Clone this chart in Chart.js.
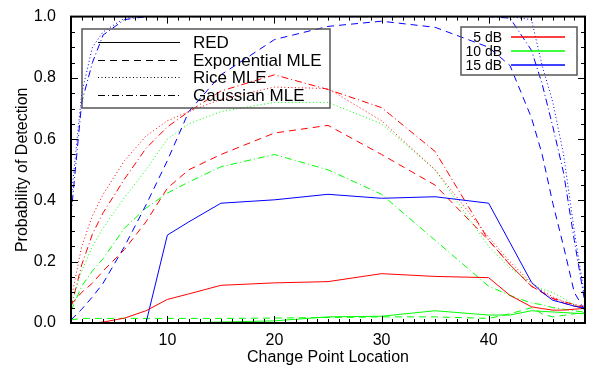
<!DOCTYPE html>
<html>
<head>
<meta charset="utf-8">
<script src="https://cdn.jsdelivr.net/npm/chart.js@4.4.1/dist/chart.umd.min.js"></script>
<style>
  html, body { margin: 0; padding: 0; background: #fff; }
</style>
</head>
<body>
<canvas id="chart" width="590" height="369"></canvas>
<script>
// change point locations where the detectors were evaluated
const changePoints = [1, 2, 3, 4, 6, 8, 10, 12, 15, 20, 25, 30, 35, 40, 42, 44, 45, 46, 47, 48, 49];

// RED detector (solid)
const red5  = [0, 0, 0, 0.003, 0.016, 0.04, 0.077, 0.095, 0.123, 0.131, 0.135, 0.161, 0.152, 0.148, 0.09, 0.053, 0.047, 0.042, 0.042, 0.045, 0.048];
const red10 = [0, 0, 0, 0, 0, 0, 0, 0.001, 0.003, 0.007, 0.02, 0.022, 0.04, 0.026, 0.026, 0.04, 0.038, 0.036, 0.034, 0.032, 0.03];
const red15 = [0, 0, 0, 0, 0, 0, 0.287, 0.33, 0.391, 0.402, 0.42, 0.407, 0.412, 0.391, 0.262, 0.133, 0.1, 0.074, 0.065, 0.055, 0.048];

// Exponential MLE (dashed)
const exp5  = [0.06, 0.1, 0.13, 0.17, 0.24, 0.33, 0.44, 0.5, 0.55, 0.62, 0.645, 0.55, 0.45, 0.27, 0.19, 0.12, 0.1, 0.08, 0.065, 0.055, 0.05];
const exp10 = [0.01, 0.015, 0.015, 0.015, 0.015, 0.015, 0.015, 0.015, 0.015, 0.016, 0.018, 0.02, 0.02, 0.015, 0.03, 0.05, 0.03, 0.02, 0.025, 0.03, 0.035];
const exp15 = [0.01, 0.045, 0.085, 0.13, 0.25, 0.385, 0.53, 0.69, 0.81, 0.925, 0.968, 0.985, 0.965, 0.9, 0.84, 0.67, 0.55, 0.39, 0.25, 0.1, 0.04];

// Rice MLE (dotted)
const rice5  = [0.075, 0.25, 0.35, 0.42, 0.53, 0.61, 0.66, 0.69, 0.73, 0.77, 0.765, 0.66, 0.5, 0.28, 0.2, 0.13, 0.105, 0.085, 0.07, 0.06, 0.055];
const rice10 = [0.06, 0.17, 0.25, 0.31, 0.41, 0.5, 0.6, 0.65, 0.69, 0.72, 0.72, 0.65, 0.5, 0.25, 0.18, 0.13, 0.11, 0.1, 0.08, 0.06, 0.045];
const rice15 = [0.4, 0.75, 0.9, 0.95, 0.995, 1, 1, 1, 1, 1, 1, 1, 1, 1, 1, 0.99, 0.84, 0.72, 0.55, 0.3, 0.08];

// Gaussian MLE (dash-dot)
const gauss5  = [0.05, 0.19, 0.29, 0.36, 0.47, 0.57, 0.64, 0.69, 0.757, 0.81, 0.762, 0.703, 0.56, 0.27, 0.19, 0.12, 0.1, 0.08, 0.07, 0.06, 0.05];
const gauss10 = [0.04, 0.12, 0.17, 0.21, 0.31, 0.375, 0.424, 0.46, 0.51, 0.55, 0.5, 0.42, 0.27, 0.12, 0.09, 0.065, 0.06, 0.05, 0.045, 0.04, 0.035];
const gauss15 = [0.35, 0.72, 0.85, 0.94, 0.99, 1, 1, 1, 1, 1, 1, 1, 1, 1, 0.995, 0.89, 0.78, 0.64, 0.49, 0.27, 0.065];

const xTicks = [10, 20, 30, 40];
const yTicks = [0, 0.2, 0.4, 0.6, 0.8, 1.0];

const methodNames = ['RED', 'Exponential MLE', 'Rice MLE', 'Gaussian MLE'];
const snrNames = ['5 dB', '10 dB', '15 dB'];

const snrColors = ['#ff0000', '#00ff00', '#0000ff'];
const methodDashes = [[], [7, 5], [1, 2.5], [7, 3, 1, 3]];

const seriesTable = [
  [red5, red10, red15],
  [exp5, exp10, exp15],
  [rice5, rice10, rice15],
  [gauss5, gauss10, gauss15]
];

const datasets = [];
seriesTable.forEach((group, m) => {
  group.forEach((vals, s) => {
    datasets.push({
      label: methodNames[m] + ' ' + snrNames[s],
      data: changePoints.map((x, i) => ({ x: x, y: vals[i] })),
      borderColor: snrColors[s],
      borderDash: methodDashes[m],
      borderWidth: 1,
      pointRadius: 0,
      fill: false,
      tension: 0
    });
  });
});

const FONT = 'Liberation Sans, Arial, Helvetica, sans-serif';

// IDL-style frame with inward ticks on all four sides, plus the two boxed legends
const framePlugin = {
  id: 'frame',
  afterDatasetsDraw(chart) {
    const { ctx, chartArea: a, scales } = chart;
    const xs = scales.x, ys = scales.y;
    ctx.save();
    ctx.strokeStyle = '#000';
    ctx.lineWidth = 2;
    ctx.strokeRect(a.left, a.top, a.right - a.left, a.bottom - a.top);
    ctx.lineWidth = 1;
    ctx.beginPath();
    for (let v = 2; v <= 48; v++) {
      const px = Math.round(xs.getPixelForValue(v)) + 0.5;
      const len = v % 10 === 0 ? 7 : 4;
      ctx.moveTo(px, a.bottom); ctx.lineTo(px, a.bottom - len);
      ctx.moveTo(px, a.top); ctx.lineTo(px, a.top + len);
    }
    for (let k = 1; k < 20; k++) {
      const py = Math.round(ys.getPixelForValue(k * 0.05)) + 0.5;
      const len = k % 4 === 0 ? 7 : 4;
      ctx.moveTo(a.left, py); ctx.lineTo(a.left + len, py);
      ctx.moveTo(a.right, py); ctx.lineTo(a.right - len, py);
    }
    ctx.stroke();
    ctx.restore();
  },
  afterDraw(chart) {
    const ctx = chart.ctx;
    ctx.save();
    // line style legend
    ctx.strokeStyle = '#555';
    ctx.lineWidth = 1.5;
    ctx.strokeRect(82, 29, 248, 79);
    ctx.font = '17px ' + FONT;
    ctx.textBaseline = 'middle';
    ctx.textAlign = 'left';
    methodNames.forEach((name, i) => {
      const y = Math.round(42 + i * 17.5);
      ctx.strokeStyle = '#000';
      ctx.lineWidth = 1;
      ctx.setLineDash(methodDashes[i]);
      ctx.beginPath();
      ctx.moveTo(98, y + 0.5);
      ctx.lineTo(180, y + 0.5);
      ctx.stroke();
      ctx.setLineDash([]);
      ctx.fillStyle = '#000';
      ctx.fillText(name, 193, y + 1);
    });
    // SNR legend
    ctx.strokeStyle = '#555';
    ctx.lineWidth = 1.5;
    ctx.strokeRect(461, 27, 116, 48);
    ctx.font = '14px ' + FONT;
    ctx.textAlign = 'right';
    snrNames.forEach((name, i) => {
      const y = 37 + i * 14;
      ctx.fillStyle = '#000';
      ctx.fillText(name, 502, y + 1);
      ctx.setLineDash([]);
      ctx.strokeStyle = snrColors[i];
      ctx.lineWidth = 1.6;
      ctx.beginPath();
      ctx.moveTo(511, y);
      ctx.lineTo(565, y);
      ctx.stroke();
    });
    ctx.restore();
  }
};

new Chart(document.getElementById('chart'), {
  type: 'line',
  data: { datasets: datasets },
  options: {
    responsive: false,
    animation: false,
    devicePixelRatio: 1,
    layout: { padding: { top: 13, right: 5, left: 0, bottom: 0 } },
    plugins: { legend: { display: false }, tooltip: { enabled: false } },
    scales: {
      x: {
        type: 'linear',
        min: 1,
        max: 49,
        afterBuildTicks: s => { s.ticks = xTicks.map(v => ({ value: v })); },
        afterFit: s => { s.height = 46; },
        grid: { display: false },
        border: { display: false },
        ticks: { color: '#000', font: { family: FONT, size: 16 }, padding: 0, maxRotation: 0 },
        title: { display: true, text: 'Change Point Location', color: '#000', font: { family: FONT, size: 16 }, padding: { top: 0, bottom: 2 } }
      },
      y: {
        min: 0,
        max: 1,
        afterBuildTicks: s => { s.ticks = yTicks.map(v => ({ value: v })); },
        afterFit: s => { s.width = 71; },
        grid: { display: false },
        border: { display: false },
        ticks: { color: '#000', font: { family: FONT, size: 16 }, padding: 7, callback: v => v.toFixed(1) },
        title: { display: true, text: 'Probability of Detection', color: '#000', font: { family: FONT, size: 16 }, padding: { top: 13, bottom: 0 } }
      }
    }
  },
  plugins: [framePlugin]
});
</script>
</body>
</html>
